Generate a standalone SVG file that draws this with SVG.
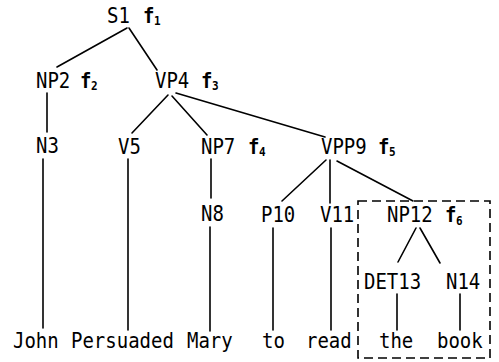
<svg xmlns="http://www.w3.org/2000/svg" width="499" height="362" viewBox="0 0 499 362">
  <style>
    text { font-family: "DejaVu Sans Mono", "Liberation Mono", monospace; font-size: 19px; fill: #000; }
    .sub { font-size: 11px; font-weight: bold; }
    .f { font-weight: bold; }
    .edge { stroke: #000; stroke-width: 1.6; fill: none; stroke-linecap: round; }
    .frame { stroke: #000; stroke-width: 1.6; fill: none; stroke-dasharray: 9 5; }
  </style>
  <rect width="499" height="362" fill="#fff"/>

  <!-- tree edges -->
  <g id="connectors">
    <line class="edge" x1="127" y1="28" x2="57" y2="67"/>
    <line class="edge" x1="129" y1="28" x2="157" y2="70"/>
    <line class="edge" x1="47" y1="93" x2="47" y2="132"/>
    <line class="edge" x1="168" y1="95" x2="132" y2="133"/>
    <line class="edge" x1="172" y1="96" x2="207" y2="135"/>
    <line class="edge" x1="176" y1="93" x2="325" y2="137"/>
    <line class="edge" x1="43" y1="159" x2="43" y2="328"/>
    <line class="edge" x1="128" y1="159" x2="128" y2="330"/>
    <line class="edge" x1="211" y1="159" x2="211" y2="198"/>
    <line class="edge" x1="210" y1="227" x2="210" y2="331"/>
    <line class="edge" x1="326" y1="160" x2="282" y2="201"/>
    <line class="edge" x1="330" y1="160" x2="330" y2="203"/>
    <line class="edge" x1="337" y1="161" x2="413" y2="201"/>
    <line class="edge" x1="273" y1="228" x2="273" y2="330"/>
    <line class="edge" x1="331" y1="228" x2="331" y2="330"/>
    <line class="edge" x1="416" y1="228" x2="398" y2="262"/>
    <line class="edge" x1="420" y1="228" x2="440" y2="263"/>
    <line class="edge" x1="397" y1="294" x2="397" y2="330"/>
    <line class="edge" x1="460" y1="294" x2="460" y2="330"/>
  </g>

  <!-- dashed frame round the object noun phrase -->
  <rect id="np12-frame" class="frame" x="358" y="201" width="132" height="157"/>

  <!-- labels, stretched a little vertically for a tall typewriter look -->
  <g id="labels" transform="scale(1,1.08)">
    <g id="S1"><text x="107" y="21.3">S1</text><text class="f" x="143" y="21.3">f</text><text class="sub" x="154" y="23.15">1</text></g>
    <g id="NP2"><text x="36" y="81.48">NP2</text><text class="f" x="80" y="81.48">f</text><text class="sub" x="91" y="83.33">2</text></g>
    <g id="VP4"><text x="155" y="81.48">VP4</text><text class="f" x="201" y="81.48">f</text><text class="sub" x="212" y="83.33">3</text></g>
    <g id="N3"><text x="36" y="141.67">N3</text></g>
    <g id="V5"><text x="118" y="142.59">V5</text></g>
    <g id="NP7"><text x="201" y="142.59">NP7</text><text class="f" x="248" y="142.59">f</text><text class="sub" x="259" y="144.44">4</text></g>
    <g id="VPP9"><text x="321" y="142.59">VPP9</text><text class="f" x="378" y="142.59">f</text><text class="sub" x="389" y="144.44">5</text></g>
    <g id="N8"><text x="201" y="204.63">N8</text></g>
    <g id="P10"><text x="261" y="205.56">P10</text></g>
    <g id="V11"><text x="320" y="205.56">V11</text></g>
    <g id="NP12"><text x="387" y="206">NP12</text><text class="f" x="445" y="206">f</text><text class="sub" x="456" y="207.9">6</text></g>
    <g id="DET13"><text x="364" y="268">DET13</text></g>
    <g id="N14"><text x="446" y="268">N14</text></g>
    <g id="John"><text x="13" y="322.2">John</text></g>
    <g id="Persuaded"><text x="71" y="322.2">Persuaded</text></g>
    <g id="Mary"><text x="187" y="322.2">Mary</text></g>
    <g id="to"><text x="262" y="322.2">to</text></g>
    <g id="read"><text x="306" y="322.2">read</text></g>
    <g id="the"><text x="379" y="322.2">the</text></g>
    <g id="book"><text x="437" y="322.2">book</text></g>
  </g>
</svg>
